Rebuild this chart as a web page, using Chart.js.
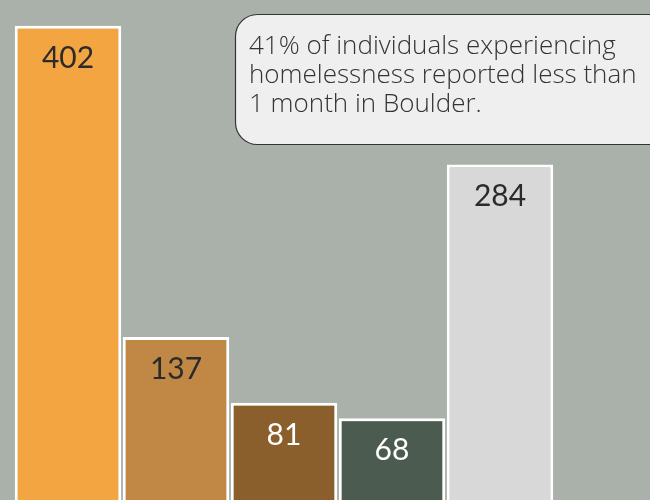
<!DOCTYPE html>
<html>
<head>
<meta charset="utf-8">
<script src="https://cdn.jsdelivr.net/npm/chart.js@4/dist/chart.umd.min.js"></script>
<style>
  html, body { margin: 0; padding: 0; background: #aab1aa; }
  #wrap { width: 650px; height: 500px; position: relative; }
</style>
</head>
<body>
<div id="wrap"><canvas id="c" width="650" height="500"></canvas></div>
<script>
// ---- data ----
const categories = ["Less than 1 month", "1–6 months", "6–12 months", "1–2 years", "More than 2 years"];
const counts = [402, 137, 81, 68, 284];
const barColors = ["#f2a541", "#c08844", "#8b5f2b", "#4b5b50", "#d8d8d8"];
const labelColors = ["#2b2b2b", "#2b2b2b", "#ffffff", "#ffffff", "#2b2b2b"];
const noteLines = [
  "41% of individuals experiencing",
  "homelessness reported less than",
  "1 month in Boulder."
];

const FONT = "Lato, 'Open Sans', sans-serif";
const NOTE_FONT = "'Open Sans', Lato, sans-serif";

const valueLabels = {
  id: "valueLabels",
  afterDatasetsDraw(chart) {
    const ctx = chart.ctx;
    const meta = chart.getDatasetMeta(0);
    ctx.save();
    ctx.font = "30px " + FONT;
    ctx.textAlign = "center";
    ctx.textBaseline = "middle";
    meta.data.forEach((bar, i) => {
      ctx.fillStyle = labelColors[i];
      ctx.fillText(String(counts[i]), bar.x, bar.y + 32);
    });
    ctx.restore();
  }
};

const noteBox = {
  id: "noteBox",
  afterDraw(chart) {
    const ctx = chart.ctx;
    const x = 235, y = 14, w = 440, h = 130, r = 22;
    ctx.save();
    ctx.beginPath();
    ctx.roundRect(x + 0.5, y + 0.5, w, h, r);
    ctx.fillStyle = "#efefef";
    ctx.fill();
    ctx.lineWidth = 1.2;
    ctx.strokeStyle = "#333333";
    ctx.stroke();
    ctx.fillStyle = "#333333";
    ctx.font = "300 26px " + NOTE_FONT;
    ctx.textAlign = "left";
    ctx.textBaseline = "middle";
    noteLines.forEach((line, i) => {
      ctx.fillText(line, 249, 47 + i * 29);
    });
    ctx.restore();
  }
};

new Chart(document.getElementById("c"), {
  type: "bar",
  data: {
    labels: categories,
    datasets: [{
      data: counts,
      backgroundColor: barColors,
      borderColor: "#ffffff",
      borderWidth: 3,
      borderSkipped: "bottom",
      barPercentage: 1,
      categoryPercentage: 0.986,
      base: -1.7
    }]
  },
  options: {
    responsive: false,
    animation: false,
    layout: { padding: { left: 14, right: 96, top: 0, bottom: 0 } },
    plugins: { legend: { display: false }, tooltip: { enabled: false } },
    scales: {
      x: { display: false },
      y: { display: false, min: -1.7, max: 424 }
    }
  },
  plugins: [valueLabels, noteBox]
});
</script>
</body>
</html>
